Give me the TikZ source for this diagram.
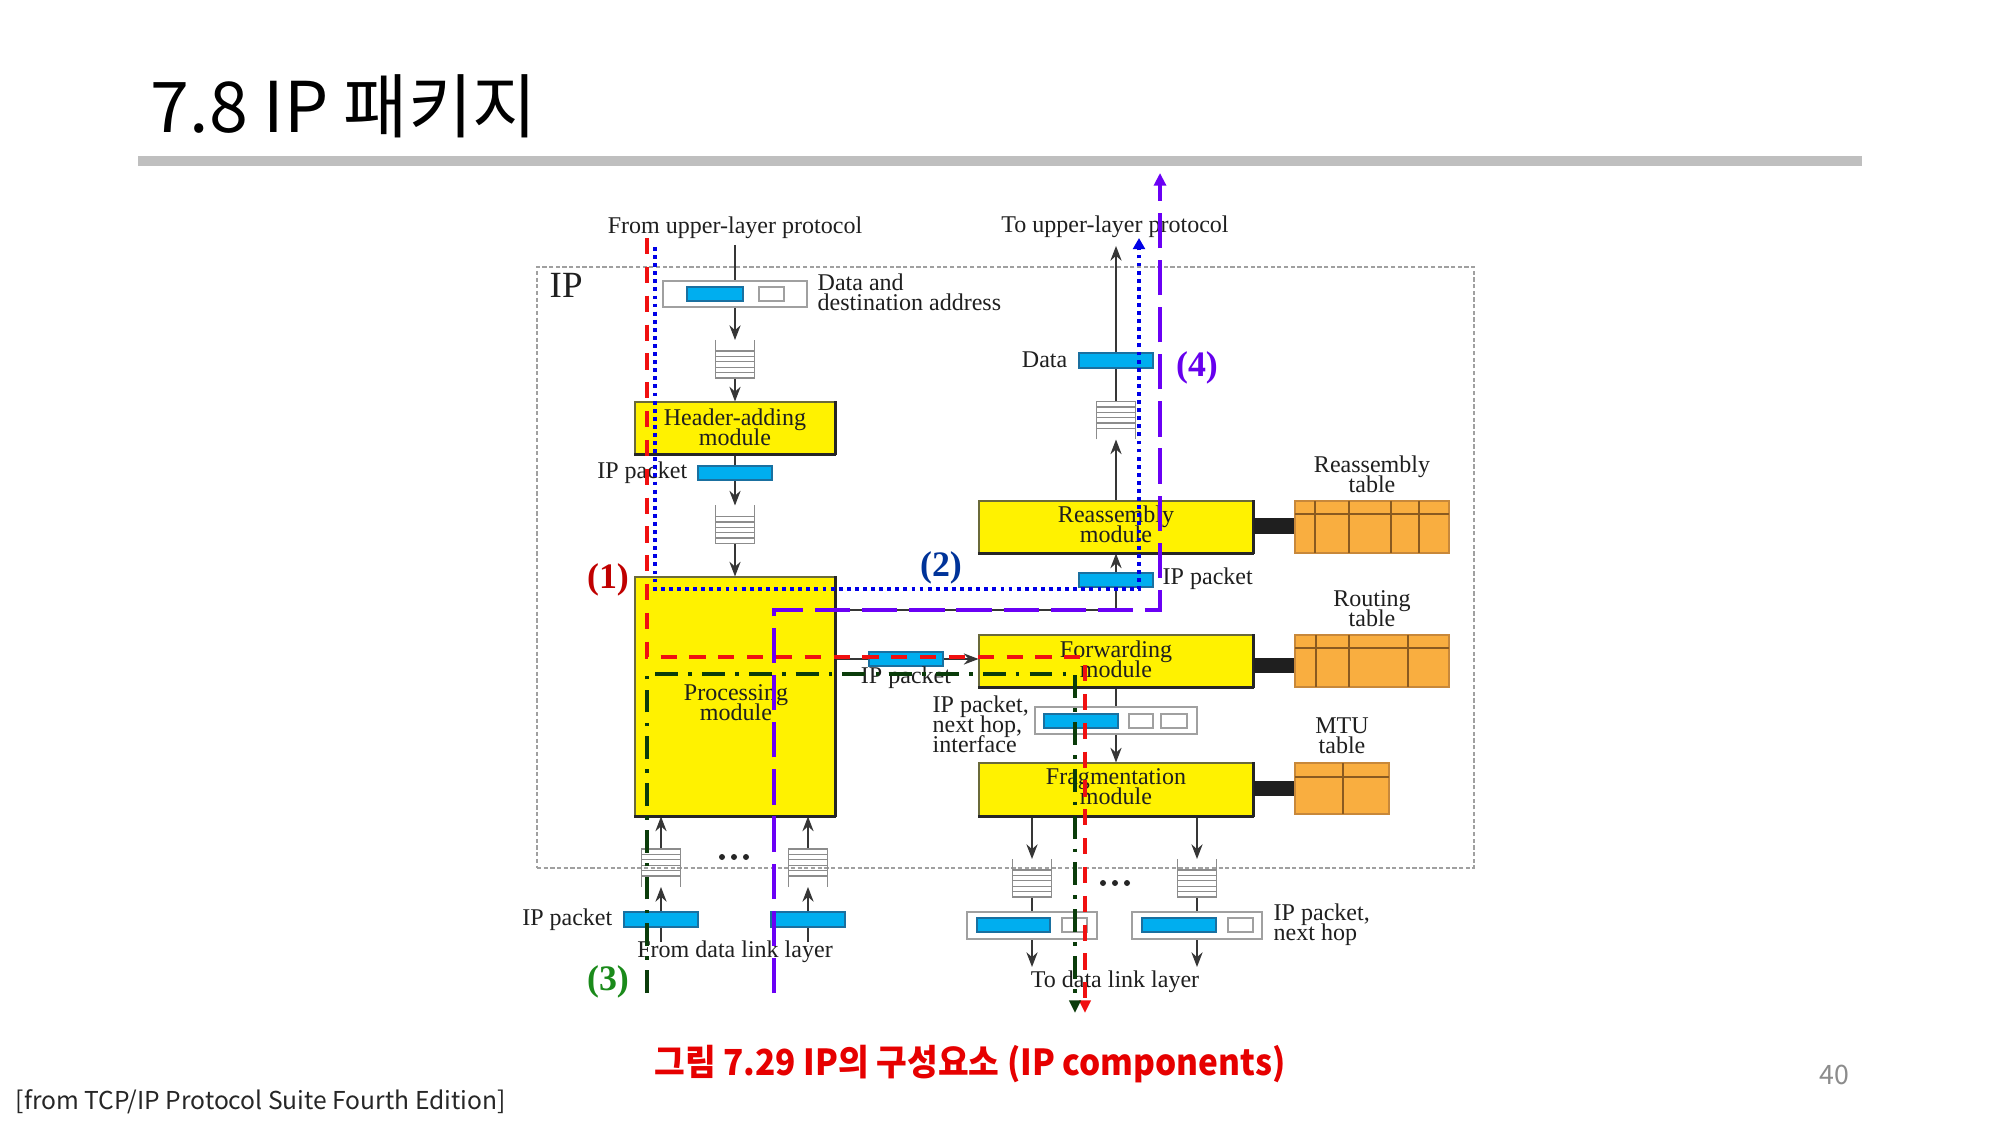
\documentclass[tikz,border=0pt]{standalone}
\usepackage{fontspec}
\usepackage{graphicx}
\setmainfont{Liberation Serif}
\newfontfamily\krfont{Noto Sans CJK KR}
\usetikzlibrary{arrows.meta,backgrounds,fit}

\definecolor{modyellow}{HTML}{FFF200}
\definecolor{modedge}{HTML}{6A6A3A}
\definecolor{taborange}{HTML}{F9AE40}
\definecolor{tabedge}{HTML}{C8883A}
\definecolor{tabline}{HTML}{8A5A20}
\definecolor{pktblue}{HTML}{00AEEF}
\definecolor{pktedge}{HTML}{1A70A0}
\definecolor{linegrey}{HTML}{363636}
\definecolor{queuegrey}{HTML}{8C8C8C}
\definecolor{boxgrey}{HTML}{A0A0A0}
\definecolor{pathred}{HTML}{F01010}
\definecolor{pathblue}{HTML}{0000E6}
\definecolor{pathgreen}{HTML}{0A3C0A}
\definecolor{pathviolet}{HTML}{6A00F5}
\definecolor{numred}{HTML}{C00000}
\definecolor{numblue}{HTML}{003399}
\definecolor{numgreen}{HTML}{1A8A1A}
\definecolor{numviolet}{HTML}{6600EE}
\definecolor{capred}{HTML}{E60000}
\definecolor{rulegrey}{HTML}{BFBFBF}

\newcommand{\diagfont}{\fontsize{6.83pt}{5.69pt}\selectfont\lineskiplimit=-20pt\relax}

\tikzset{
  lbl/.style={font=\diagfont, inner sep=0pt, text=black!88},
  modlbl/.style={lbl, align=center, anchor=north},
  biglbl/.style={font=\fontsize{10.5pt}{12pt}\selectfont, inner sep=0pt, text=black!88},
  pathnum/.style={font=\fontsize{10.2pt}{12pt}\selectfont\bfseries, inner sep=0pt},
  module/.style={fill=modyellow, draw=modedge, line width=0.3pt, inner sep=0pt,
    append after command={(\tikzlastnode.south west) edge[shadowedge] (\tikzlastnode.south east)
                          (\tikzlastnode.south east) edge[shadowedge] (\tikzlastnode.north east)}},
  shadowedge/.style={draw=black!85, line width=0.7pt},
  tablebox/.style={fill=taborange, draw=tabedge, line width=0.35pt, inner sep=0pt},
  tabinner/.style={draw=tabline, line width=0.3pt},
  linkbar/.style={fill=black!88},
  pkt/.style={fill=pktblue, draw=pktedge, line width=0.3pt, inner sep=0pt},
  addrbox/.style={fill=white, draw=boxgrey, line width=0.4pt, inner sep=0pt},
  addrcell/.style={fill=white, draw=boxgrey, line width=0.4pt, inner sep=0pt},
  ipframe/.style={draw=boxgrey, line width=0.35pt, dash pattern=on 1.2pt off 0.7pt, inner sep=0pt},
  wire/.style={draw=linegrey, line width=0.35pt},
  flow/.style={wire, -{Stealth[length=4.2pt,width=3.2pt,inset=1.4pt]}},
  qline/.style={draw=queuegrey, line width=0.35pt},
  redpath/.style={draw=pathred, line width=1.14pt, dash pattern=on 4.6pt off 3.6pt,
    -{Triangle[length=3.6pt,width=3.2pt]}},
  bluepath/.style={draw=pathblue, line width=1.14pt, dash pattern=on 1.1pt off 1.2pt,
    -{Triangle[length=3.2pt,width=3.4pt]}},
  greenpath/.style={draw=pathgreen, line width=1.14pt, dash pattern=on 6.5pt off 2.9pt on 1pt off 2.9pt,
    -{Triangle[length=3.6pt,width=3.2pt]}},
  violetpath/.style={draw=pathviolet, line width=1.14pt, dash pattern=on 10pt off 3.4pt,
    -{Triangle[length=3.6pt,width=3.4pt]}},
  queuedown/.pic={
    \draw[qline] (-19.5,-19) -- (-19.5,19) -- (19.5,19) -- (19.5,-19);
    \foreach \yy in {-8,-2.6,2.8,8.2,13.6} \draw[qline] (-19.5,\yy) -- (19.5,\yy);
    \coordinate (-n) at (0,-19);
    \coordinate (-s) at (0,19);
  },
  queueup/.pic={
    \draw[qline] (-19.5,19) -- (-19.5,-19) -- (19.5,-19) -- (19.5,19);
    \foreach \yy in {-13.6,-8.2,-2.8,2.6,8} \draw[qline] (-19.5,\yy) -- (19.5,\yy);
    \coordinate (-n) at (0,-19);
    \coordinate (-s) at (0,19);
  },
}

\begin{document}
\begin{tikzpicture}[x=0.01cm, y=-0.01cm]
\useasboundingbox (0,0) rectangle (2000,1125);

% slide heading and rule
\node[anchor=base west, inner sep=0pt, font=\krfont\fontsize{19.9pt}{24pt}\selectfont] (title) at (150,133) {7.8 IP 패키지};
\fill[rulegrey] (138,156) rectangle (1862,166);

% IP layer frame
\node[ipframe, fit={(537,267) (1474,868)}] (ipbox) {};
\node[biglbl, anchor=base west] (iplabel) at (549,298) {IP};

% modules
\node[module, fit={(635,402) (835,454)}] (hdr) {};
\node[module, fit={(635,577) (835,816)}] (proc) {};
\node[module, fit={(979,501) (1253,553)}] (rea) {};
\node[module, fit={(979,635) (1253,687)}] (fwd) {};
\node[module, fit={(979,763) (1253,816)}] (frag) {};
\node[modlbl] (hdrtext) at (735,408.6) {Header-adding\\module};
\node[modlbl] (proctext) at (736,683.6) {Processing\\module};
\node[modlbl] (reatext) at (1116,505.6) {Reassembly\\module};
\node[modlbl] (fwdtext) at (1116,640.6) {Forwarding\\module};
\node[modlbl] (fragtext) at (1116,767.6) {Fragmentation\\module};

% tables
\node[tablebox, fit={(1295,501) (1449,553)}] (rtab) {};
\foreach \xx in {1315,1349,1391,1419} \draw[tabinner] (\xx,501) -- (\xx,553);
\draw[tabinner] (1295,514) -- (1449,514);
\node[tablebox, fit={(1295,635) (1449,687)}] (routtab) {};
\foreach \xx in {1316,1349,1408} \draw[tabinner] (\xx,635) -- (\xx,687);
\draw[tabinner] (1295,648) -- (1449,648);
\node[tablebox, fit={(1295,763) (1389,814)}] (mtutab) {};
\draw[tabinner] (1343,763) -- (1343,814);
\draw[tabinner] (1295,777) -- (1389,777);

\fill[linkbar] (rea.east |- 0,518) rectangle (rtab.west |- 0,534);
\fill[linkbar] (fwd.east |- 0,658) rectangle (routtab.west |- 0,673);
\fill[linkbar] (frag.east |- 0,781) rectangle (mtutab.west |- 0,796);

\node[modlbl] (rtabtext) at (1372,455.6) {Reassembly\\table};
\node[modlbl] (routtext) at (1372,589.6) {Routing\\table};
\node[modlbl] (mtutext) at (1342,717) {MTU\\table};

% packets and address boxes
\node[addrbox, fit={(663,281) (807,307)}] (dbox) {};
\node[pkt, fit={(687,287) (743,301)}] (dbar) {};
\node[addrcell, fit={(759,287) (784,301)}] (dcell) {};
\node[pkt, fit={(698,466) (772,480)}] (p1) {};
\node[pkt, fit={(1079,353) (1153,368)}] (datar) {};
\node[pkt, fit={(1079,573) (1153,587)}] (p4) {};
\node[pkt, fit={(869,652) (943,666)}] (p3) {};

\node[addrbox, fit={(1035,707) (1197,734)}] (box2) {};
\node[pkt, fit={(1044,714) (1118,728)}] (box2bar) {};
\node[addrcell, fit={(1129,714) (1153,728)}] (box2c1) {};
\node[addrcell, fit={(1161,714) (1187,728)}] (box2c2) {};

\node[addrbox, fit={(967,912) (1097,939)}] (box3) {};
\node[pkt, fit={(977,918) (1050,932)}] (box3bar) {};
\node[addrcell, fit={(1062,918) (1087,932)}] (box3c) {};
\node[addrbox, fit={(1132,912) (1262,939)}] (box4) {};
\node[pkt, fit={(1142,918) (1216,932)}] (box4bar) {};
\node[addrcell, fit={(1228,918) (1253,932)}] (box4c) {};

\node[pkt, fit={(624,912) (698,927)}] (b1) {};
\node[pkt, fit={(771,912) (845,927)}] (b2) {};

% queues
\pic (q1) at (735,359) {queuedown};
\pic (q2) at (735,524.5) {queuedown};
\pic (q3) at (1116,420.5) {queueup};
\pic (q5) at (1032,878) {queuedown};
\pic (q6) at (1197,878) {queuedown};
\pic (q7) at (661,868) {queueup};
\pic (q8) at (808,868) {queueup};

% free ends
\coordinate (upin) at (735,245);
\coordinate (upout) at (1116,246);
\coordinate (jr) at (1116,610);
\coordinate (out1) at (1032,967);
\coordinate (out2) at (1197,967);
\coordinate (in1) at (661,942);
\coordinate (in2) at (808,942);

% data flow connectors, kept behind the packets
\begin{scope}[on background layer]
\fill[white] (0,0) rectangle (2000,1125);
\draw[wire] (upin) -- (dbox.north);
\draw[flow] (dbox.south) -- (q1-n);
\draw[flow] (q1-s) -- (hdr.north);
\draw[wire] (hdr.south) -- (p1.north);
\draw[flow] (p1.south) -- (q2-n);
\draw[flow] (q2-s) -- (proc.north);
\draw[flow] (proc.east |- p3.center) -- (fwd.west |- p3.center);
\draw[flow] (proc.east |- jr) -- (jr) -- (rea.south);
\draw[flow] (rea.north) -- (q3-s);
\draw[flow] (q3-n) -- (upout);
\draw[wire] (fwd.south) -- (box2.north);
\draw[flow] (box2.south) -- (frag.north);
\draw[flow] (frag.south -| q5-n) -- (q5-n);
\draw[flow] (frag.south -| q6-n) -- (q6-n);
\draw[wire] (q5-s) -- (box3.north);
\draw[wire] (q6-s) -- (box4.north);
\draw[flow] (box3.south) -- (out1);
\draw[flow] (box4.south) -- (out2);
\draw[wire] (in1) -- (b1.south);
\draw[wire] (in2) -- (b2.south);
\draw[flow] (b1.north) -- (q7-s);
\draw[flow] (b2.north) -- (q8-s);
\draw[flow] (q7-n) -- (proc.south -| q7-n);
\draw[flow] (q8-n) -- (proc.south -| q8-n);
\end{scope}

% ellipses between queues
\foreach \xx in {722,734,746} \fill[black!85] (\xx,857) circle[radius=3];
\foreach \xx in {1103,1115,1127} \fill[black!85] (\xx,883) circle[radius=3];

% text labels
\node[lbl, anchor=base] (fromup) at (735,234) {From upper-layer protocol};
\node[lbl, anchor=base] (toup) at (1115,233) {To upper-layer protocol};
\node[lbl, align=left, anchor=north west] (dlabel) at (817,273.6) {Data and\\destination address};
\node[lbl, anchor=base east] (p1lbl) at (688,479) {IP packet};
\node[lbl, anchor=base east] (datalbl) at (1068,368) {Data};
\node[lbl, anchor=base west] (p4lbl) at (1162,585) {IP packet};
\node[lbl, anchor=base] (p3lbl) at (906,684) {IP packet};
\node[lbl, align=left, anchor=north west] (nhlbl) at (932,695.6) {IP packet,\\next hop,\\interface};
\node[lbl, align=left, anchor=north west] (nh2lbl) at (1273,903.6) {IP packet,\\next hop};
\node[lbl, anchor=base] (todl) at (1115,987) {To data link layer};
\node[lbl, anchor=base east] (b1lbl) at (613,925) {IP packet};
\node[lbl, anchor=base] (fromdl) at (735,957) {From data link layer};

% traced paths
\coordinate (r0) at (647,238);
\coordinate (rA) at (647,657);
\coordinate (rB) at (1085,657);
\coordinate (r1) at (1085,1013);
\draw[redpath] (r0) -- (rA) -- (rB) -- (r1);

\coordinate (u0) at (655,247);
\coordinate (uA) at (655,589);
\coordinate (uB) at (1139,589);
\coordinate (u1) at (1139,238);
\draw[bluepath] (u0) -- (uA) -- (uB) -- (u1);

\coordinate (g0) at (647,993);
\coordinate (gA) at (647,674);
\coordinate (gB) at (1075,674);
\coordinate (g1) at (1075,1013);
\draw[greenpath] (g0) -- (gA) -- (gB) -- (g1);

\coordinate (v0) at (774,993);
\coordinate (vA) at (774,610);
\coordinate (vB) at (1160,610);
\coordinate (v1) at (1160,173);
\draw[violetpath] (v0) -- (vA) -- (vB) -- (v1);

\node[pathnum, text=numred] (n1) at (608,580) {(1)};
\node[pathnum, text=numblue] (n2) at (941,568) {(2)};
\node[pathnum, text=numgreen] (n3) at (608,982) {(3)};
\node[pathnum, text=numviolet] (n4) at (1197,368) {(4)};

% caption, source and page number
\node[anchor=base, inner sep=0pt, text=capred, font=\krfont\bfseries\fontsize{10.2pt}{12pt}\selectfont] (caption) at (970,1075) {\scalebox{0.93}[1]{그림 7.29 IP의 구성요소 (IP components)}};
\node[anchor=base west, inner sep=0pt, text=black!85, font=\krfont\fontsize{7pt}{8pt}\selectfont] (source) at (15,1109) {[from TCP/IP Protocol Suite Fourth Edition]};
\node[anchor=base, inner sep=0pt, text=black!45, font=\krfont\fontsize{7.6pt}{9pt}\selectfont] (pageno) at (1834,1084) {40};
\end{tikzpicture}
\end{document}
